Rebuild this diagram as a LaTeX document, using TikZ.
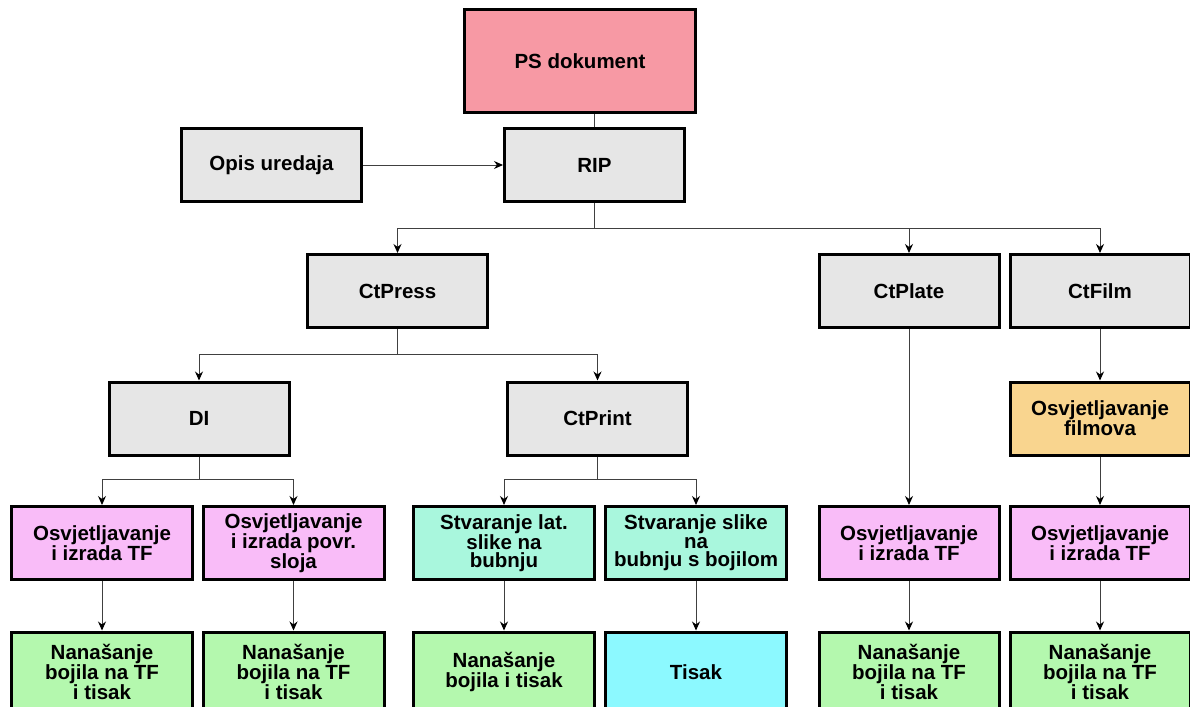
\documentclass[tikz,border=0pt]{standalone}
\usepackage{fontspec}
\setmainfont{Liberation Sans}
\usetikzlibrary{arrows.meta}
\definecolor{boxgrey}{HTML}{E6E6E6}
\definecolor{psred}{HTML}{F799A4}
\definecolor{tfpink}{HTML}{F9BCF8}
\definecolor{inkgreen}{HTML}{B4F8AE}
\definecolor{drumgreen}{HTML}{A9F7DD}
\definecolor{printcyan}{HTML}{8CF9FF}
\definecolor{filmorange}{HTML}{F9D58F}
\newcommand*{\rowB}{165}
\newcommand*{\rowC}{291}
\newcommand*{\rowD}{418.5}
\newcommand*{\rowE}{543}
\newcommand*{\rowF}{672}
\begin{document}
\begin{tikzpicture}[x=1pt,y=-1pt,
	box/.style={draw=black,line width=3pt,minimum width=180pt,minimum height=73pt,inner sep=0pt,align=center,font=\fontsize{20.5}{18.5}\selectfont\bfseries},
	conn/.style={draw=black!75,line width=1pt},
	arr/.style={conn,-{Stealth[length=9pt,width=8pt,color=black]}}]
	\useasboundingbox (0,0) rectangle (1190,706);
	\clip (0,0) rectangle (1190,706);
	
	\node[box,fill=psred,minimum width=231pt,minimum height=103pt] (ps) at (580,61) {PS dokument};
	\node[box,fill=boxgrey] (opis) at (271.5,\rowB) {Opis uredaja};
	\node[box,fill=boxgrey] (rip) at (594.5,\rowB) {RIP};
	
	\node[box,fill=boxgrey] (ctpress) at (397.5,\rowC) {CtPress};
	\node[box,fill=boxgrey] (ctplate) at (909,\rowC) {CtPlate};
	\node[box,fill=boxgrey] (ctfilm) at (1100,\rowC) {CtFilm};
	
	\node[box,fill=boxgrey] (di) at (199,\rowD) {DI};
	\node[box,fill=boxgrey] (ctprint) at (597.5,\rowD) {CtPrint};
	\node[box,fill=filmorange] (film) at (1100,\rowD) {Osvjetljavanje\\filmova};
	
	\node[box,fill=tfpink,minimum width=181pt] (osvA) at (102,\rowE) {Osvjetljavanje\\i izrada TF};
	\node[box,fill=tfpink,minimum width=181pt] (osvB) at (293.5,\rowE) {Osvjetljavanje\\i izrada povr.\\sloja};
	\node[box,fill=drumgreen,minimum width=181pt] (stvA) at (504,\rowE) {Stvaranje lat.\\slike na\\bubnju};
	\node[box,fill=drumgreen,minimum width=181pt] (stvB) at (696,\rowE) {Stvaranje slike\\na\\bubnju s bojilom};
	\node[box,fill=tfpink] (osvC) at (909,\rowE) {Osvjetljavanje\\i izrada TF};
	\node[box,fill=tfpink] (osvD) at (1100,\rowE) {Osvjetljavanje\\i izrada TF};
	
	\node[box,fill=inkgreen,minimum width=181pt,minimum height=80pt] (nanA) at (102,\rowF) {Nanašanje\\bojila na TF\\i tisak};
	\node[box,fill=inkgreen,minimum width=181pt,minimum height=80pt] (nanB) at (293.5,\rowF) {Nanašanje\\bojila na TF\\i tisak};
	\node[box,fill=inkgreen,minimum width=181pt,minimum height=80pt] (nanC) at (504,\rowF) {Nanašanje\\bojila i tisak};
	\node[box,fill=printcyan,minimum width=181pt,minimum height=80pt] (tisak) at (696,\rowF) {Tisak};
	\node[box,fill=inkgreen,minimum height=80pt] (nanD) at (909,\rowF) {Nanašanje\\bojila na TF\\i tisak};
	\node[box,fill=inkgreen,minimum height=80pt] (nanE) at (1100,\rowF) {Nanašanje\\bojila na TF\\i tisak};
	
	\draw[conn] (rip.north) -- (rip.north |- ps.south);
	\draw[arr] (opis) -- (rip);
	
	\draw[conn] (rip.south) -- ++(0,25) coordinate (ripbus);
	\foreach \n in {ctpress,ctplate,ctfilm} {
		\draw[arr] (ripbus) -| (\n.north);
	}
	\draw[conn] (ctpress.south) -- ++(0,25) coordinate (pressbus);
	\foreach \n in {di,ctprint} {
		\draw[arr] (pressbus) -| (\n.north);
	}
	\draw[conn] (di.south) -- ++(0,23) coordinate (dibus);
	\foreach \n in {osvA,osvB} {
		\draw[arr] (dibus) -| (\n.north);
	}
	\draw[conn] (ctprint.south) -- ++(0,23) coordinate (printbus);
	\foreach \n in {stvA,stvB} {
		\draw[arr] (printbus) -| (\n.north);
	}
	\foreach \a/\b in {ctplate/osvC,ctfilm/film,film/osvD,osvA/nanA,osvB/nanB,stvA/nanC,stvB/tisak,osvC/nanD,osvD/nanE} {
		\draw[arr] (\a) -- (\b);
	}
\end{tikzpicture}
\end{document}
